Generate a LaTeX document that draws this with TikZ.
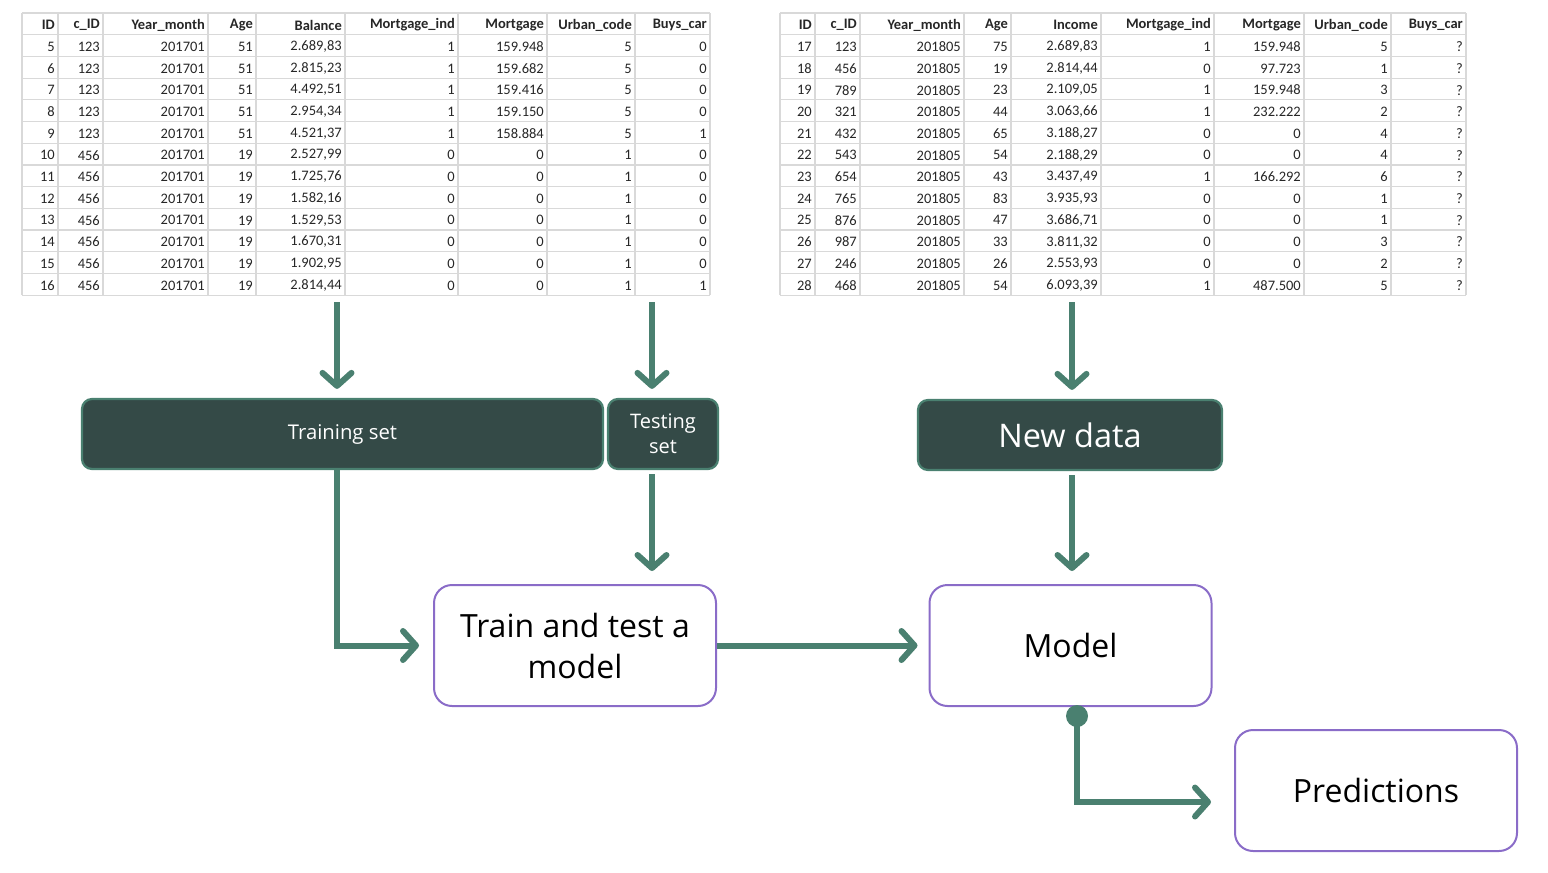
\documentclass[tikz,border=0pt]{standalone}
\usepackage{fontspec}
\setmainfont{Open Sans}
\newfontfamily\tabfont{Carlito}
\usepackage{tikz}
\usetikzlibrary{arrows.meta,positioning}
\definecolor{flowgreen}{RGB}{74,128,112}
\definecolor{darkbox}{RGB}{52,74,71}
\definecolor{boxpurple}{RGB}{138,108,200}
\definecolor{gridgray}{RGB}{217,217,217}

\begin{document}
\begin{tikzpicture}[x=1pt, y=-1pt, >={Straight Barb[length=13, width=29, round]}]

\tikzstyle{cell}=[anchor=east, inner sep=0pt, text=black!85,
    font=\tabfont\fontsize{14.5}{16}\selectfont]
\tikzstyle{head}=[cell, font=\tabfont\bfseries\fontsize{14.5}{16}\selectfont]
\tikzstyle{grid}=[draw=gridgray, line width=1.2]
\tikzstyle{setbox}=[draw=flowgreen, fill=darkbox, line width=2.2, rounded corners=10,
    text=white, align=center, inner sep=0pt]
\tikzstyle{stepbox}=[draw=boxpurple, fill=white, line width=2, rounded corners=18,
    minimum width=282, minimum height=121, align=center, inner sep=0pt,
    font=\fontsize{32}{41}\selectfont]
\tikzstyle{flow}=[->, draw=flowgreen, line width=6]

\useasboundingbox (0,0) rectangle (1548,873);

% left table (history)
\foreach \i in {0,...,13} \draw[grid] (22,{13+21.7*\i}) -- (710,{13+21.7*\i});
\foreach \x in {22,58,103,208,256,345,458,547,635,710} \draw[grid] (\x,13) -- (\x,295.1);
\node[head] (lh1) at (55,25) {ID};
\node[head] (lh2) at (100,25) {c\_ID};
\node[head] (lh3) at (205,25) {Year\_month};
\node[head] (lh4) at (253,25) {Age};
\node[head] (lh5) at (342,25) {Balance};
\node[head] (lh6) at (455,25) {Mortgage\_ind};
\node[head] (lh7) at (544,25) {Mortgage};
\node[head] (lh8) at (632,25) {Urban\_code};
\node[head] (lh9) at (707,25) {Buys\_car};
\foreach \a/\b/\c/\d/\e/\f/\g/\h/\k [count=\r] in {
    5/123/201701/51/{2.689,83}/1/159.948/5/0,
    6/123/201701/51/{2.815,23}/1/159.682/5/0,
    7/123/201701/51/{4.492,51}/1/159.416/5/0,
    8/123/201701/51/{2.954,34}/1/159.150/5/0,
    9/123/201701/51/{4.521,37}/1/158.884/5/1,
    10/456/201701/19/{2.527,99}/0/0/1/0,
    11/456/201701/19/{1.725,76}/0/0/1/0,
    12/456/201701/19/{1.582,16}/0/0/1/0,
    13/456/201701/19/{1.529,53}/0/0/1/0,
    14/456/201701/19/{1.670,31}/0/0/1/0,
    15/456/201701/19/{1.902,95}/0/0/1/0,
    16/456/201701/19/{2.814,44}/0/0/1/1} {
  \node[cell] (l\r-1) at (55,{25+21.7*\r}) {\a};
  \node[cell] (l\r-2) at (100,{25+21.7*\r}) {\b};
  \node[cell] (l\r-3) at (205,{25+21.7*\r}) {\c};
  \node[cell] (l\r-4) at (253,{25+21.7*\r}) {\d};
  \node[cell] (l\r-5) at (342,{25+21.7*\r}) {\e};
  \node[cell] (l\r-6) at (455,{25+21.7*\r}) {\f};
  \node[cell] (l\r-7) at (544,{25+21.7*\r}) {\g};
  \node[cell] (l\r-8) at (632,{25+21.7*\r}) {\h};
  \node[cell] (l\r-9) at (707,{25+21.7*\r}) {\k};
}

% right table (new customers)
\foreach \i in {0,...,13} \draw[grid] (780,{13+21.7*\i}) -- (1466,{13+21.7*\i});
\foreach \x in {780,815,860,964,1011,1101,1214,1304,1391,1466} \draw[grid] (\x,13) -- (\x,295.1);
\node[head] (rh1) at (812,25) {ID};
\node[head] (rh2) at (857,25) {c\_ID};
\node[head] (rh3) at (961,25) {Year\_month};
\node[head] (rh4) at (1008,25) {Age};
\node[head] (rh5) at (1098,25) {Income};
\node[head] (rh6) at (1211,25) {Mortgage\_ind};
\node[head] (rh7) at (1301,25) {Mortgage};
\node[head] (rh8) at (1388,25) {Urban\_code};
\node[head] (rh9) at (1463,25) {Buys\_car};
\foreach \a/\b/\c/\d/\e/\f/\g/\h/\k [count=\r] in {
    17/123/201805/75/{2.689,83}/1/159.948/5/?,
    18/456/201805/19/{2.814,44}/0/97.723/1/?,
    19/789/201805/23/{2.109,05}/1/159.948/3/?,
    20/321/201805/44/{3.063,66}/1/232.222/2/?,
    21/432/201805/65/{3.188,27}/0/0/4/?,
    22/543/201805/54/{2.188,29}/0/0/4/?,
    23/654/201805/43/{3.437,49}/1/166.292/6/?,
    24/765/201805/83/{3.935,93}/0/0/1/?,
    25/876/201805/47/{3.686,71}/0/0/1/?,
    26/987/201805/33/{3.811,32}/0/0/3/?,
    27/246/201805/26/{2.553,93}/0/0/2/?,
    28/468/201805/54/{6.093,39}/1/487.500/5/?} {
  \node[cell] (r\r-1) at (812,{25+21.7*\r}) {\a};
  \node[cell] (r\r-2) at (857,{25+21.7*\r}) {\b};
  \node[cell] (r\r-3) at (961,{25+21.7*\r}) {\c};
  \node[cell] (r\r-4) at (1008,{25+21.7*\r}) {\d};
  \node[cell] (r\r-5) at (1098,{25+21.7*\r}) {\e};
  \node[cell] (r\r-6) at (1211,{25+21.7*\r}) {\f};
  \node[cell] (r\r-7) at (1301,{25+21.7*\r}) {\g};
  \node[cell] (r\r-8) at (1388,{25+21.7*\r}) {\h};
  \node[cell] (r\r-9) at (1463,{25+21.7*\r}) {\k};
}

\coordinate (TrainOut) at (337,302);
\coordinate (TestOut) at (652,302);
\coordinate (NewOut) at (1072,302);

% boxes
\node[setbox, minimum width=521, minimum height=70, font=\fontsize{20.3}{25}\selectfont]
    (Train) at (342.5,434) {Training set};
\node[setbox, minimum width=110, minimum height=70, font=\fontsize{20}{25}\selectfont]
    (Test) at (663,434) {Testing\\set};
\node[setbox, minimum width=304, minimum height=70, font=\fontsize{32.5}{36}\selectfont]
    (New) at (1070,435) {New data};
\node[stepbox] (Fit) at (575,645.5) {Train and test a\\model};
\node[stepbox] (Model) at (1070.5,645.5) {Model};
\node[stepbox] (Pred) at (1376,790.5) {Predictions};
\node[circle, fill=flowgreen, minimum size=22, inner sep=0pt] (Dot) at (1077,716) {};
\coordinate (Bend) at (1077,802);

% connectors
\draw[flow, shorten >=9] (TrainOut) -- (TrainOut |- Train.north);
\draw[flow, shorten >=9] (TestOut) -- (TestOut |- Test.north);
\draw[flow, shorten >=9] (NewOut) -- (NewOut |- New.north);
\draw[flow, shorten >=14] (TrainOut |- Train.south) |- (Fit.west);
\draw[flow, shorten <=4, shorten >=13] (TestOut |- Test.south) -- (TestOut |- Fit.north);
\draw[flow, shorten >=11] (Fit.east) -- (Model.west);
\draw[flow, shorten <=4, shorten >=13] (New.south -| NewOut) -- (NewOut |- Model.north);
\draw[flow, shorten >=23] (Dot.center) -- (Bend) -- (Bend -| Pred.west);

\end{tikzpicture}
\end{document}
